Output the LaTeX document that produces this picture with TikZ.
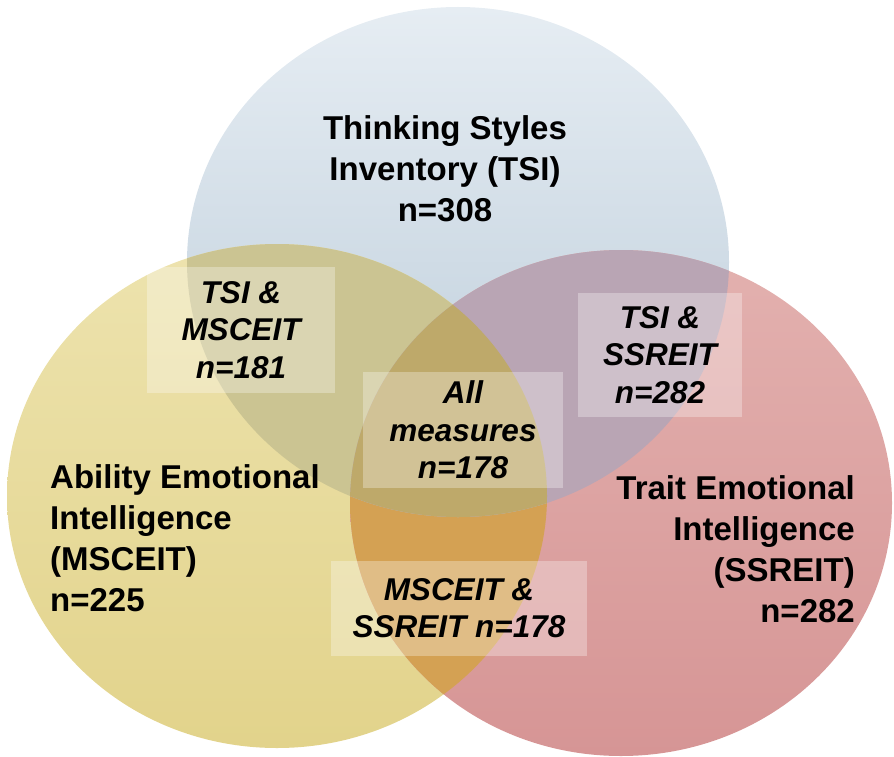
\documentclass[tikz,border=0pt]{standalone}
\usepackage{fontspec}
\setmainfont{Liberation Sans}

\definecolor{tsiblue}{HTML}{B9CAD8}
\definecolor{tsitop}{HTML}{E6EDF3}
\definecolor{mscyellow}{HTML}{E2D38B}
\definecolor{msctop}{HTML}{EDE3AE}
\definecolor{ssrred}{HTML}{D69595}
\definecolor{ssrtop}{HTML}{E3B1AF}
\definecolor{tsimscmix}{HTML}{CBC492}
\definecolor{tsissrmix}{HTML}{B9A5B4}
\definecolor{mscssrmix}{HTML}{D4A153}
\definecolor{allmix}{HTML}{BEA96A}

\newcommand{\tsiset}{(458,262) ellipse [x radius=271pt, y radius=255pt]}
\newcommand{\mscset}{(277,496) ellipse [x radius=270pt, y radius=252pt]}
\newcommand{\ssrset}{(621,503) ellipse [x radius=271pt, y radius=253pt]}

\begin{document}
\begin{tikzpicture}[
    x=1pt, y=-1pt,
    setlabel/.style={font=\fontsize{33}{41}\selectfont\bfseries, inner sep=0pt},
    overlapbox/.style={fill=white, fill opacity=0.3, text opacity=1, inner sep=0pt,
      align=center, font=\fontsize{31.5}{37.5}\selectfont\bfseries\itshape}
  ]

\useasboundingbox (0,0) rectangle (894,757);

% Circles
\shade[top color=tsitop, middle color=tsiblue, bottom color=tsiblue] \tsiset;
\shade[top color=msctop, middle color=mscyellow, bottom color=mscyellow] \mscset;
\shade[top color=ssrtop, middle color=ssrred, bottom color=ssrred] \ssrset;

% Overlaps
\begin{scope}
  \clip \mscset;
  \fill[mscssrmix] \ssrset;
\end{scope}
\begin{scope}
  \clip \tsiset;
  \fill[tsimscmix] \mscset;
  \fill[tsissrmix] \ssrset;
  \clip \mscset;
  \fill[allmix] \ssrset;
\end{scope}

% Set labels
\node[setlabel, align=center] (tsi) at (445,169)
  {Thinking Styles\\Inventory (TSI)\\n=308};
\node[setlabel, align=left, anchor=west] (msc) at (50,538)
  {Ability Emotional\\Intelligence\\(MSCEIT)\\n=225};
\node[setlabel, align=right, anchor=east] (ssr) at (855,549)
  {Trait Emotional\\Intelligence\\(SSREIT)\\n=282};

% Overlap boxes
\node[overlapbox, minimum width=188pt, minimum height=126pt] (tsimsc) at (241,330)
  {TSI \&\\MSCEIT\\n=181};
\node[overlapbox, minimum width=200pt, minimum height=116pt] (allm) at (463,430)
  {All\\measures\\n=178};
\node[overlapbox, minimum width=164pt, minimum height=124pt] (tsissr) at (660,355)
  {TSI \&\\SSREIT\\n=282};
\node[overlapbox, minimum width=256pt, minimum height=95pt] (mscssr) at (459,608)
  {MSCEIT \&\\SSREIT n=178};

\end{tikzpicture}
\end{document}
